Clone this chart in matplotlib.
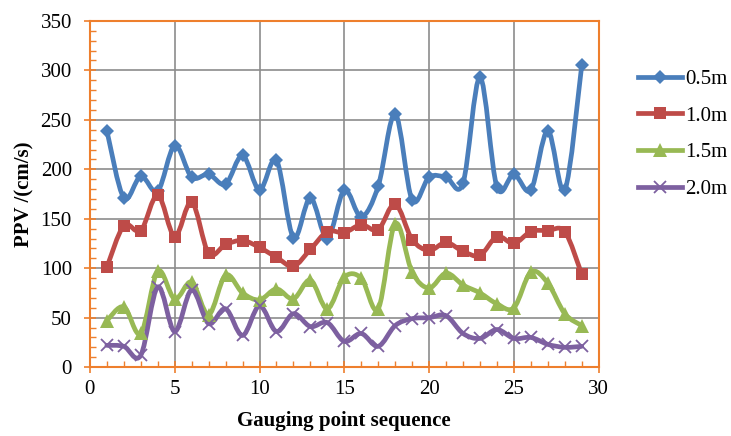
"""
PPV along the gauging points, four burial depths, Excel-style smoothed lines.
Writes out.png.
"""

import numpy as np
import matplotlib
matplotlib.use("Agg")
import matplotlib.pyplot as plt
from matplotlib.path import Path
from matplotlib.patches import PathPatch
from matplotlib.lines import Line2D
from matplotlib.ticker import MultipleLocator

points = list(range(1, 30))

ppv_05 = [239, 171, 193, 178, 224, 192, 195, 185, 214, 179, 209, 131, 171, 130, 179,
          152, 183, 256, 169, 192, 192, 186, 293, 182, 195, 179, 239, 179, 305]
ppv_10 = [101, 143, 138, 174, 132, 167, 115, 124, 128, 121, 111, 102, 119, 137, 136,
          144, 139, 165, 129, 118, 126, 117, 113, 132, 125, 137, 138, 137, 94]
ppv_15 = [47, 61, 34, 97, 69, 86, 53, 93, 75, 68, 79, 69, 88, 59, 91,
          90, 59, 145, 96, 80, 95, 83, 75, 64, 60, 96, 85, 54, 42]
ppv_20 = [22, 21, 12, 81, 36, 78, 44, 59, 32, 62, 36, 54, 41, 45, 26,
          34, 21, 42, 49, 50, 52, 34, 29, 38, 29, 30, 23, 20, 21]

labels = ["0.5m", "1.0m", "1.5m", "2.0m"]

SERIES = [
    (ppv_05, "#4A7EBB", dict(marker="D", ms=7.5, mew=0)),
    (ppv_10, "#BE4B48", dict(marker="s", ms=9, mew=0)),
    (ppv_15, "#98B954", dict(marker="^", ms=10, mew=0)),
    (ppv_20, "#7D60A0", dict(marker="x", ms=8, mew=1.3)),
]

ORANGE = "#EE7F2D"
GRID = "#8C8C8C"
SERIF = ["Liberation Serif", "DejaVu Serif"]
FS = 15


def smooth_path(x, y):
    """Catmull-Rom style cubic Bezier through the points (what Excel calls smoothed)."""
    p = np.column_stack([x, y]).astype(float)
    ext = np.vstack([p[0], p, p[-1]])
    verts = [p[0]]
    codes = [Path.MOVETO]
    for i in range(len(p) - 1):
        a, b, c, d = ext[i], ext[i + 1], ext[i + 2], ext[i + 3]
        verts += [b + (c - a) / 6, c - (d - b) / 6, c]
        codes += [Path.CURVE4] * 3
    return Path(verts, codes)


plt.rcParams["font.family"] = SERIF
plt.rcParams["font.size"] = FS

fig = plt.figure(figsize=(7.31, 4.36), dpi=100)
ax = fig.add_axes([0.123, 0.158, 0.696, 0.794])

handles = []
for vals, col, mk in SERIES:
    ax.add_patch(PathPatch(smooth_path(points, vals), fill=False, edgecolor=col,
                           lw=3.4, capstyle="round", joinstyle="round", zorder=3))
    ax.plot(points, vals, ls="none", color=col, mfc=col, mec=col, zorder=4, **mk)
    handles.append(Line2D([], [], color=col, lw=3.4, mfc=col, mec=col, **mk))

ax.set_xlim(0, 30)
ax.set_ylim(0, 350)
ax.xaxis.set_major_locator(MultipleLocator(5))
ax.xaxis.set_minor_locator(MultipleLocator(1))
ax.yaxis.set_major_locator(MultipleLocator(50))
ax.yaxis.set_minor_locator(MultipleLocator(10))
ax.grid(True, which="major", color=GRID, lw=1.2, zorder=0)
ax.set_axisbelow(True)

for s in ax.spines.values():
    s.set_color(ORANGE)
    s.set_linewidth(1.5)
ax.tick_params(which="major", direction="inout", length=8, width=1.2, color=ORANGE)
ax.tick_params(which="minor", direction="in", length=4, width=1.0, color=ORANGE)
ax.tick_params(axis="y", which="major", pad=9)
ax.tick_params(axis="x", which="major", pad=5)
ax.tick_params(labelsize=FS, labelcolor="black")

ax.set_xlabel("Gauging point sequence", fontweight="bold", fontsize=FS, labelpad=9)
ax.set_ylabel("PPV /(cm/s)", fontweight="bold", fontsize=FS, labelpad=4)

fig.legend(handles, labels, loc="upper left", bbox_to_anchor=(0.862, 0.86),
           frameon=False, fontsize=FS, handlelength=2.1, handletextpad=0.15,
           labelspacing=0.82, borderaxespad=0)

fig.savefig("out.png", dpi=100)
